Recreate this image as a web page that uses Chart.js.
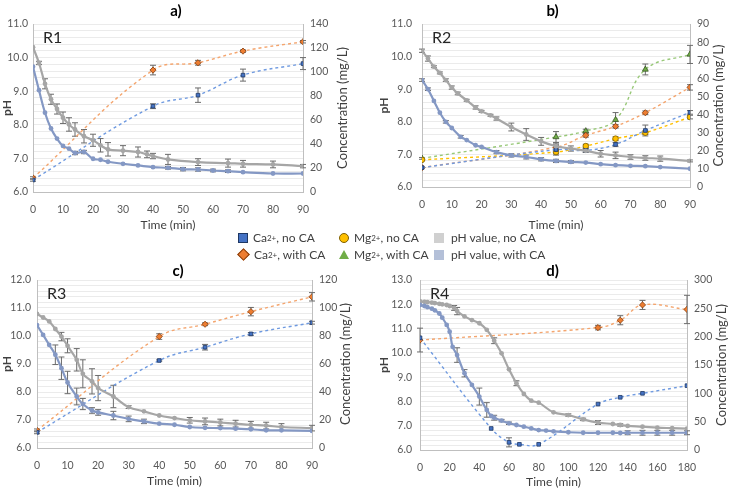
<!DOCTYPE html>
<html>
<head>
<meta charset="utf-8">
<script src="https://cdn.jsdelivr.net/npm/chart.js@4.4.1/dist/chart.umd.min.js"></script>
<style>
  body { margin: 0; background: #fff; }
  #wrap { position: relative; width: 734px; height: 489px; overflow: hidden; font-family: Lato, "Open Sans", sans-serif; }
  .panel { position: absolute; }
  #legend { position: absolute; left: 238px; top: 229px; font-size: 12px; color: #404040; }
  .row { display: flex; height: 17px; align-items: center; }
  .item { display: flex; align-items: center; }
  .item sup { font-size: 8px; line-height: 0; }
  .mk { display: inline-block; margin-right: 5px; }
</style>
</head>
<body>
<div id="wrap">
  <div class="panel" style="left:0;top:0;width:352px;height:232px"><canvas id="r1"></canvas></div>
  <div class="panel" style="left:367px;top:0;width:367px;height:232px"><canvas id="r2"></canvas></div>
  <div class="panel" style="left:0;top:262px;width:356px;height:227px"><canvas id="r3"></canvas></div>
  <div class="panel" style="left:367px;top:262px;width:367px;height:227px"><canvas id="r4"></canvas></div>
  <div id="legend">
    <div class="row">
      <span class="item" style="width:101px"><span class="mk" style="width:8px;height:8px;background:#4472c4;border:1px solid #1f3864"></span>Ca<sup>2+</sup>, no CA</span>
      <span class="item" style="width:95px"><span class="mk" style="width:8px;height:8px;border-radius:50%;background:#ffc000;border:1px solid #7f6000"></span>Mg<sup>2+</sup>, no CA</span>
      <span class="item"><span class="mk" style="width:10px;height:10px;background:#d0d0d0;margin-right:7px"></span>pH value, no CA</span>
    </div>
    <div class="row">
      <span class="item" style="width:101px"><span class="mk" style="width:7px;height:7px;background:#ed7d31;border:1px solid #843c0c;transform:rotate(45deg);margin-left:1px;margin-right:6px"></span>Ca<sup>2+</sup>, with CA</span>
      <span class="item" style="width:95px"><span class="mk" style="width:0;height:0;border-left:5px solid transparent;border-right:5px solid transparent;border-bottom:9px solid #70ad47"></span>Mg<sup>2+</sup>, with CA</span>
      <span class="item"><span class="mk" style="width:10px;height:10px;background:#b4c0d8;margin-right:7px"></span>pH value, with CA</span>
    </div>
  </div>
</div>
<script>
// ---- R1 ----
const r1PhNoCATime = [0, 2, 4, 6, 8, 10, 12, 14, 17, 20, 22.5, 25, 30, 35, 38, 40, 45, 55, 65, 70, 80, 90];
const r1PhNoCA     = [10.31, 9.84, 9.22, 8.76, 8.47, 8.21, 8.01, 7.86, 7.66, 7.54, 7.39, 7.27, 7.23, 7.19, 7.12, 7.07, 6.97, 6.89, 6.86, 6.84, 6.82, 6.77];
const r1PhNoCAErr  = [0, 0.05, 0.15, 0.15, 0.15, 0.17, 0.2, 0.2, 0.2, 0.18, 0.2, 0.2, 0.15, 0.15, 0.1, 0.08, 0.15, 0.1, 0.12, 0.1, 0.1, 0.05];
const r1PhCATime   = [0, 2, 4, 6, 8, 10, 12, 14, 17, 20, 22.5, 25, 30, 35, 40, 45, 50, 55, 60, 65, 70, 80, 90];
const r1PhCA       = [9.73, 9.03, 8.36, 7.89, 7.59, 7.37, 7.29, 7.16, 7.19, 6.99, 6.96, 6.9, 6.84, 6.79, 6.74, 6.72, 6.68, 6.67, 6.64, 6.62, 6.59, 6.55, 6.55];
const r1PhCAErr    = [0, 0, 0, 0, 0, 0, 0, 0.05, 0.05, 0, 0, 0, 0, 0, 0, 0.04, 0.05, 0.05, 0.04, 0.04, 0, 0, 0];
const r1ConcTime   = [0, 40, 55, 70, 90];
const r1CaNoCA     = [10, 71.5, 80.7, 97.4, 107];
const r1CaNoCAErr  = [1, 2, 6, 5, 5];
const r1CaCA       = [11.7, 101.6, 107.7, 117.4, 125.2];
const r1CaCAErr    = [1, 4, 2, 1, 1];

// ---- R2 ----
const r2PhNoCATime = [0, 2, 4, 6, 8, 10, 12, 15, 18, 20, 23, 25, 30, 35, 40, 45, 50, 55, 60, 65, 70, 75, 80, 90];
const r2PhNoCA     = [10.18, 9.94, 9.69, 9.5, 9.28, 9.05, 8.87, 8.66, 8.44, 8.32, 8.2, 8.1, 7.84, 7.61, 7.4, 7.25, 7.18, 7.11, 7.02, 6.97, 6.92, 6.89, 6.87, 6.8];
const r2PhNoCAErr  = [0.05, 0.08, 0.03, 0.03, 0.04, 0.05, 0.04, 0.03, 0.05, 0.03, 0.03, 0.05, 0.12, 0.18, 0.12, 0.1, 0.08, 0.05, 0.1, 0.1, 0.07, 0.07, 0.08, 0.03];
const r2PhCATime   = [0, 2, 4, 6, 8, 10, 13, 15, 18, 20, 25, 30, 35, 40, 45, 50, 55, 60, 65, 70, 75, 80, 90];
const r2PhCA       = [9.28, 9.0, 8.64, 8.28, 8.0, 7.81, 7.54, 7.44, 7.28, 7.23, 7.07, 6.97, 6.92, 6.85, 6.8, 6.77, 6.75, 6.7, 6.67, 6.65, 6.64, 6.61, 6.56];
const r2PhCAErr    = [0.04, 0.04, 0, 0, 0.04, 0, 0.04, 0, 0, 0, 0.05, 0.05, 0.06, 0.05, 0.05, 0.04, 0, 0, 0, 0, 0, 0, 0];
const r2ConcTime   = [0, 45, 55, 65, 75, 90];
const r2CaNoCA     = [10.7, 20.6, 20.2, 23.5, 31.2, 41.2];
const r2CaNoCAErr  = [0, 3, 1, 1, 3, 1];
const r2CaCA       = [10.7, 22, 28.5, 33.5, 41, 55];
const r2CaCAErr    = [0, 1, 1, 1, 1, 1.5];
const r2MgNoCA     = [15, 19.3, 22.6, 26.7, 30, 38.6];
const r2MgNoCAErr  = [0, 1, 1, 1, 1, 1];
const r2MgCA       = [15.8, 27.6, 30.9, 37.1, 64.9, 73.2];
const r2MgCAErr    = [0.5, 3, 1, 4, 3, 5];

// ---- R3 ----
const r3PhTime     = [0, 2, 4, 6, 8, 10, 13, 15, 18, 20, 25, 30, 35, 40, 45, 50, 55, 60, 65, 70, 75, 80, 90];
const r3PhNoCA     = [10.79, 10.66, 10.52, 10.25, 9.98, 9.65, 9.15, 8.65, 8.38, 8.14, 7.84, 7.46, 7.31, 7.16, 7.07, 6.99, 6.95, 6.91, 6.87, 6.83, 6.8, 6.75, 6.71];
const r3PhNoCAErr  = [0, 0, 0, 0, 0.15, 0.25, 0.4, 0.5, 0.45, 0.45, 0.4, 0.05, 0, 0, 0, 0.1, 0.12, 0.12, 0.12, 0.12, 0.12, 0.12, 0.1];
const r3PhCA       = [10.39, 10.04, 9.68, 9.33, 8.85, 8.34, 7.84, 7.57, 7.34, 7.27, 7.16, 7.04, 6.95, 6.87, 6.83, 6.75, 6.72, 6.71, 6.69, 6.67, 6.63, 6.63, 6.61];
const r3PhCAErr    = [0, 0, 0, 0.35, 0.4, 0.4, 0.3, 0.2, 0.1, 0.1, 0.15, 0.1, 0.08, 0, 0, 0, 0, 0, 0, 0, 0, 0, 0];
const r3ConcTime   = [0, 40, 55, 70, 90];
const r3CaNoCA     = [11.2, 62.5, 72, 81.5, 89.5];
const r3CaNoCAErr  = [1, 0.5, 2, 1, 1];
const r3CaCA       = [12.6, 79.6, 88.4, 97.4, 108];
const r3CaCAErr    = [1, 2, 1, 3, 3];

// ---- R4 ----
const r4PhNoCATime = [0, 3, 5, 8, 10, 13, 15, 18, 20, 23, 25, 30, 35, 40, 45, 50, 55, 60, 65, 70, 75, 80, 90, 100, 110, 120, 130, 135, 140, 150, 160, 170, 180];
const r4PhNoCA     = [12.12, 12.1, 12.09, 12.07, 12.05, 12.02, 12.0, 11.97, 11.93, 11.85, 11.72, 11.5, 11.35, 11.22, 10.95, 10.5, 9.98, 9.32, 8.75, 8.31, 8.03, 7.95, 7.55, 7.44, 7.26, 7.13, 7.07, 7.03, 6.99, 6.96, 6.92, 6.9, 6.88];
const r4PhNoCAErr  = [0, 0, 0, 0, 0, 0, 0, 0, 0, 0.1, 0.15, 0, 0, 0, 0, 0.12, 0, 0, 0.1, 0, 0, 0, 0, 0.05, 0.05, 0.08, 0, 0.05, 0, 0, 0, 0, 0];
const r4PhCATime   = [0, 3, 5, 8, 10, 13, 15, 18, 20, 22, 25, 30, 35, 40, 45, 48, 50, 55, 60, 65, 70, 75, 80, 85, 90, 100, 110, 120, 130, 135, 140, 150, 160, 170, 180];
const r4PhCA       = [11.97, 11.93, 11.88, 11.82, 11.75, 11.62, 11.45, 11.15, 10.87, 10.25, 9.91, 9.16, 8.68, 8.2, 7.65, 7.4, 7.33, 7.21, 7.1, 7.03, 6.96, 6.89, 6.82, 6.8, 6.77, 6.73, 6.71, 6.71, 6.71, 6.7, 6.71, 6.71, 6.71, 6.71, 6.71];
const r4PhCAErr    = [0, 0, 0, 0, 0, 0, 0, 0, 0, 0, 0.3, 0.15, 0, 0.35, 0.3, 0, 0.1, 0.05, 0.05, 0, 0, 0, 0, 0, 0, 0, 0, 0, 0, 0, 0.08, 0.1, 0.1, 0.1, 0.08];
const r4CaNoCATime = [0, 48, 60, 67, 80, 120, 135, 150, 180];
const r4CaNoCA     = [198, 38, 13.5, 10, 10, 81, 93, 100, 113.5];
const r4CaNoCAErr  = [0, 0, 8, 0, 0, 0, 0, 0, 0];
const r4CaCATime   = [0, 120, 135, 150, 180];
const r4CaCA       = [194, 216, 229, 256, 248];
const r4CaCAErr    = [21, 4, 8, 8, 25];

const FONT = 'Lato, "Open Sans", sans-serif';
const TEXT = '#595959';

const errorBars = {
  id: 'errorBars',
  beforeDatasetsDraw(chart) {
    const ctx = chart.ctx;
    ctx.save();
    ctx.strokeStyle = '#6b6b6b';
    ctx.lineWidth = 1;
    chart.data.datasets.forEach(ds => {
      if (!ds.errors) return;
      const ys = chart.scales[ds.yAxisID];
      ds.data.forEach((p, i) => {
        const e = ds.errors[i];
        if (!e) return;
        const px = chart.scales.x.getPixelForValue(p.x);
        const y1 = ys.getPixelForValue(p.y - e), y2 = ys.getPixelForValue(p.y + e);
        ctx.beginPath();
        ctx.moveTo(px, y1); ctx.lineTo(px, y2);
        ctx.moveTo(px - 3, y1); ctx.lineTo(px + 3, y1);
        ctx.moveTo(px - 3, y2); ctx.lineTo(px + 3, y2);
        ctx.stroke();
      });
    });
    ctx.restore();
  }
};

// "R1" tag inside the plot, and the right axis title read bottom-to-top
const panelText = {
  id: 'panelText',
  afterDraw(chart, args, opts) {
    const ctx = chart.ctx, area = chart.chartArea;
    ctx.save();
    ctx.font = '16px ' + FONT;
    ctx.fillStyle = '#262626';
    ctx.textBaseline = 'middle';
    ctx.fillText(opts.tag, area.left + 10, area.top + 14);
    ctx.font = '13px ' + FONT;
    ctx.fillStyle = '#404040';
    ctx.textAlign = 'center';
    ctx.translate(opts.rightX, (area.top + area.bottom) / 2);
    ctx.rotate(-Math.PI / 2);
    ctx.fillText('Concentration (mg/L)', 0, 0);
    ctx.restore();
  }
};

function pts(xs, ys) { return xs.map((x, i) => ({ x: x, y: ys[i] })); }

function phLine(label, xs, ys, errs, color) {
  return {
    label: label, yAxisID: 'y', data: pts(xs, ys), errors: errs,
    borderColor: color, backgroundColor: color, borderWidth: 2.2,
    pointRadius: 2.4, pointBorderWidth: 0, pointStyle: 'circle', tension: 0.4
  };
}

function concLine(label, xs, ys, errs, line, fill, edge, style, r) {
  return {
    label: label, yAxisID: 'y1', data: pts(xs, ys), errors: errs,
    borderColor: line, borderWidth: 1.4, borderDash: [3, 3],
    backgroundColor: fill, pointBorderColor: edge, pointBorderWidth: 0.8,
    pointRadius: r || 2.6, pointStyle: style, tension: 0.4
  };
}

// L: layout for one panel (axis box sizes in px)
function makePanel(id, title, tag, xMax, xStep, phMin, phMax, cMax, cStep, datasets, L) {
  new Chart(document.getElementById(id), {
    type: 'line',
    data: { datasets: datasets },
    plugins: [errorBars, panelText],
    options: {
      responsive: true, maintainAspectRatio: false, animation: false,
      layout: { padding: L.pad },
      plugins: {
        legend: { display: false }, tooltip: { enabled: false },
        title: { display: true, text: title, color: '#000', font: { family: FONT, size: 15, weight: 'bold' }, padding: L.titlePad },
        panelText: { tag: tag, rightX: L.rx }
      },
      scales: {
        x: {
          type: 'linear', min: 0, max: xMax,
          afterFit: s => { s.height = L.xh; },
          ticks: { stepSize: xStep, color: TEXT, font: { family: FONT, size: 10.5 }, padding: 3 },
          grid: { display: false }, border: { color: '#bfbfbf' },
          title: { display: true, text: 'Time (min)', color: '#404040', font: { family: FONT, size: 12 }, padding: { top: 1, bottom: 0 } }
        },
        y: {
          min: phMin, max: phMax,
          afterFit: s => { s.width = L.yw; },
          ticks: {
            stepSize: 0.2, autoSkip: false, color: TEXT, font: { family: FONT, size: 10.5 }, padding: L.tp,
            callback: v => Math.abs(v - Math.round(v)) < 1e-6 ? v.toFixed(1) : ''
          },
          grid: { color: '#ebebeb', drawTicks: false }, border: { color: '#bfbfbf' },
          title: { display: true, text: 'pH', color: '#404040', font: { family: FONT, size: 12, weight: 'bold' }, padding: 0 }
        },
        y1: {
          position: 'right', min: 0, max: cMax,
          afterFit: s => { s.width = L.y1w; },
          ticks: { stepSize: cStep, color: TEXT, font: { family: FONT, size: 10.5 }, padding: 7 },
          grid: { drawOnChartArea: false, drawTicks: false }, border: { color: '#bfbfbf' }
        }
      }
    }
  });
}

const GRAY = '#a6a6a6', STEEL = '#8498c4';
const CA_LINE = '#6f9ae0', OR_LINE = '#f4a56e', YE_LINE = '#ffc000', GR_LINE = '#98c878';

makePanel('r1', 'a)', 'R1', 90, 10, 6, 11, 140, 20, [
  phLine('pH value, with CA', r1PhCATime, r1PhCA, r1PhCAErr, STEEL),
  phLine('pH value, no CA', r1PhNoCATime, r1PhNoCA, r1PhNoCAErr, GRAY),
  concLine('Ca2+, no CA', r1ConcTime, r1CaNoCA, r1CaNoCAErr, CA_LINE, '#4472c4', '#1f3864', 'rect'),
  concLine('Ca2+, with CA', r1ConcTime, r1CaCA, r1CaCAErr, OR_LINE, '#ed7d31', '#843c0c', 'rectRot', 3.1)
], { pad: { left: 0, right: 0, top: 0, bottom: 0 }, titlePad: { top: 2, bottom: 4 }, yw: 33, y1w: 49, xh: 40, tp: 5, rx: 343 });

makePanel('r2', 'b)', 'R2', 90, 10, 6, 11, 90, 10, [
  phLine('pH value, with CA', r2PhCATime, r2PhCA, r2PhCAErr, STEEL),
  phLine('pH value, no CA', r2PhNoCATime, r2PhNoCA, r2PhNoCAErr, GRAY),
  concLine('Ca2+, no CA', r2ConcTime, r2CaNoCA, r2CaNoCAErr, CA_LINE, '#4472c4', '#1f3864', 'rect'),
  concLine('Ca2+, with CA', r2ConcTime, r2CaCA, r2CaCAErr, OR_LINE, '#ed7d31', '#843c0c', 'rectRot', 3.1),
  concLine('Mg2+, no CA', r2ConcTime, r2MgNoCA, r2MgNoCAErr, YE_LINE, '#ffc000', '#7f6000', 'circle', 2.8),
  concLine('Mg2+, with CA', r2ConcTime, r2MgCA, r2MgCAErr, GR_LINE, '#70ad47', '#375623', 'triangle', 3.4)
], { pad: { left: 10, right: 6, top: 0, bottom: 0 }, titlePad: { top: 2, bottom: 4 }, yw: 45, y1w: 38, xh: 45, tp: 10, rx: 352 });

makePanel('r3', 'c)', 'R3', 90, 10, 6, 12, 120, 20, [
  phLine('pH value, with CA', r3PhTime, r3PhCA, r3PhCAErr, STEEL),
  phLine('pH value, no CA', r3PhTime, r3PhNoCA, r3PhNoCAErr, GRAY),
  concLine('Ca2+, no CA', r3ConcTime, r3CaNoCA, r3CaNoCAErr, CA_LINE, '#4472c4', '#1f3864', 'rect'),
  concLine('Ca2+, with CA', r3ConcTime, r3CaCA, r3CaCAErr, OR_LINE, '#ed7d31', '#843c0c', 'rectRot', 3.1)
], { pad: { left: 0, right: 0, top: 0, bottom: 1 }, titlePad: { top: 0, bottom: 0 }, yw: 37, y1w: 44, xh: 40, tp: 6, rx: 346 });

makePanel('r4', 'd)', 'R4', 180, 20, 6, 13, 300, 50, [
  phLine('pH value, with CA', r4PhCATime, r4PhCA, r4PhCAErr, STEEL),
  phLine('pH value, no CA', r4PhNoCATime, r4PhNoCA, r4PhNoCAErr, GRAY),
  concLine('Ca2+, no CA', r4CaNoCATime, r4CaNoCA, r4CaNoCAErr, CA_LINE, '#4472c4', '#1f3864', 'rect'),
  concLine('Ca2+, with CA', r4CaCATime, r4CaCA, r4CaCAErr, OR_LINE, '#ed7d31', '#843c0c', 'rectRot', 3.1)
], { pad: { left: 10, right: 6, top: 0, bottom: 0 }, titlePad: { top: 0, bottom: 0 }, yw: 43, y1w: 41, xh: 39, tp: 8, rx: 355 });
</script>
</body>
</html>
